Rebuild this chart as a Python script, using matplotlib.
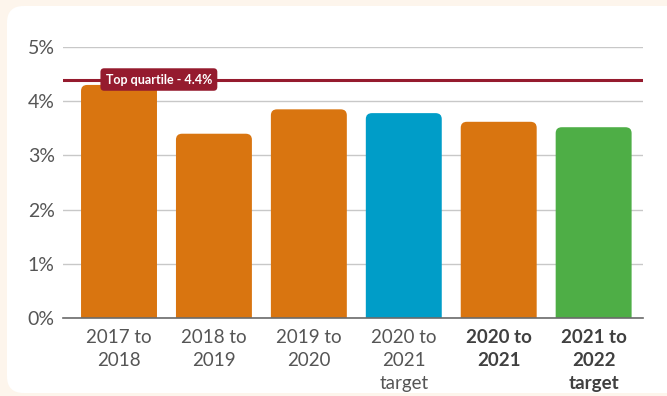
import matplotlib
matplotlib.use("Agg")
import matplotlib.pyplot as plt
from matplotlib.patches import FancyBboxPatch
from matplotlib.ticker import FuncFormatter

# Data
categories = ["2017 to\n2018", "2018 to\n2019", "2019 to\n2020",
              "2020 to\n2021\ntarget", "2020 to\n2021", "2021 to\n2022\ntarget"]
values = [4.3, 3.4, 3.85, 3.78, 3.62, 3.52]
bar_colors = ["#d97510", "#d97510", "#d97510", "#009dc8", "#d97510", "#4eae46"]
bold_labels = [False, False, False, False, True, True]
top_quartile = 4.4
quartile_label = "Top quartile - 4.4%"
y_ticks = [0, 1, 2, 3, 4, 5]

plt.rcParams["font.family"] = ["Lato", "DejaVu Sans"]

W, H = 667, 396
fig = plt.figure(figsize=(W / 100, H / 100), dpi=100)
fig.patch.set_facecolor("#fdf5ec")

# White rounded card behind the chart
card = FancyBboxPatch((7 / W, 3 / H), 1.2, (390 - 3) / H,
                      boxstyle="round,pad=0,rounding_size=0.025",
                      mutation_aspect=W / H,
                      transform=fig.transFigure, facecolor="white",
                      edgecolor="none", zorder=-10)
fig.patches.append(card)

ax = fig.add_axes([63 / W, (H - 318) / H, (643 - 63) / W, (318 - 47) / H])
ax.set_facecolor("none")
ax.set_zorder(1)

x = list(range(len(categories)))
bar_w = 0.8
ax.set_xlim(-0.59, 5.52)
ax.set_ylim(0, 5)

# Rounded bars
rx = 0.065
ry = 0.11
for xi, v, c in zip(x, values, bar_colors):
    patch = FancyBboxPatch((xi - bar_w / 2, -0.3), bar_w, v + 0.3,
                           boxstyle=f"round,pad=0,rounding_size={rx}",
                           mutation_aspect=ry / rx,
                           facecolor=c, edgecolor="none", zorder=3,
                           clip_on=True)
    ax.add_patch(patch)

# Gridlines
ax.set_yticks(y_ticks)
ax.yaxis.set_major_formatter(FuncFormatter(lambda v, p: f"{int(v)}%"))
ax.grid(axis="y", color="#c8c8c8", linewidth=1.0, zorder=1)
ax.set_axisbelow(True)

for side in ["top", "right", "left"]:
    ax.spines[side].set_visible(False)
ax.spines["bottom"].set_color("#6b6b6b")
ax.spines["bottom"].set_linewidth(1.2)
ax.spines["bottom"].set_zorder(5)

ax.tick_params(axis="y", length=0, pad=6, labelsize=14, labelcolor="#555555")
ax.tick_params(axis="x", length=0, pad=8)
ax.set_xticks(x)
ax.set_xticklabels(categories, fontsize=13.5, linespacing=1.42)
for lbl, b in zip(ax.get_xticklabels(), bold_labels):
    lbl.set_color("#404040" if b else "#555555")
    lbl.set_fontweight("bold" if b else "normal")

# Top quartile line and label
ax.axhline(top_quartile, color="#951b2e", linewidth=2.2, zorder=4)
ax.text(0.42, top_quartile, quartile_label, ha="center", va="center",
        fontsize=9, fontweight="bold", color="white", zorder=6,
        bbox=dict(boxstyle="round,pad=0.42,rounding_size=0.3",
                  facecolor="#951b2e", edgecolor="none"))

fig.savefig("out.png", dpi=100, facecolor=fig.get_facecolor())
